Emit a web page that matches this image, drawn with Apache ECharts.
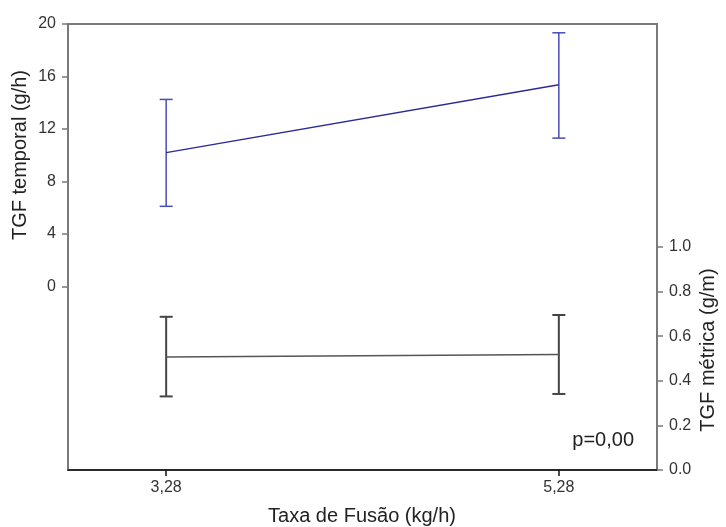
<!DOCTYPE html>
<html>
<head>
<meta charset="utf-8">
<script src="https://cdn.jsdelivr.net/npm/echarts@6/dist/echarts.min.js"></script>
<style>html,body{margin:0;padding:0;background:#fff;}#c{width:726px;height:527px;}</style>
</head>
<body>
<div id="c"></div>
<script>
const xCategories = [3.28, 5.28];
const temporalMean = [10.2, 15.37];
const temporalLow = [6.1, 11.3];
const temporalHigh = [14.25, 19.33];
const metricaMean = [0.507, 0.518];
const metricaLow = [0.33, 0.341];
const metricaHigh = [0.687, 0.695];
const leftTicks = [0, 4, 8, 12, 16, 20];
const rightTicks = [0, 0.2, 0.4, 0.6, 0.8, 1.0];
const pText = 'p=0,00';

const FONT = 'Liberation Sans, Arial, sans-serif';
const chart = echarts.init(document.getElementById('c'), null, {renderer: 'canvas'});

function errBar(color, width) {
  return function (params, api) {
    const x = api.value(0);
    const lo = api.coord([x, api.value(1)]);
    const hi = api.coord([x, api.value(2)]);
    const w = 6.5;
    const style = {stroke: color, lineWidth: width};
    return {
      type: 'group',
      children: [
        {type: 'line', shape: {x1: lo[0], y1: lo[1], x2: hi[0], y2: hi[1]}, style},
        {type: 'line', shape: {x1: hi[0] - w, y1: hi[1], x2: hi[0] + w, y2: hi[1]}, style},
        {type: 'line', shape: {x1: lo[0] - w, y1: lo[1], x2: lo[0] + w, y2: lo[1]}, style}
      ]
    };
  };
}

const option = {
  animation: false,
  grid: {left: 68, right: 69, top: 24, bottom: 57, show: true, borderColor: '#7a7a7a', borderWidth: 2},
  xAxis: {
    type: 'value', min: 2.78, max: 5.78,
    axisLine: {show: true, onZero: false, lineStyle: {color: '#111', width: 1.5}},
    axisTick: {show: true, customValues: xCategories, length: 6, lineStyle: {color: '#111', width: 1.5}},
    axisLabel: {customValues: xCategories, color: '#333', fontSize: 16, fontFamily: FONT, margin: 10,
      formatter: v => v.toFixed(2).replace('.', ',')},
    splitLine: {show: false}
  },
  yAxis: [
    {
      type: 'value', min: -14, max: 20, position: 'left',
      axisLine: {show: true, onZero: false, lineStyle: {color: '#7a7a7a', width: 2}},
      axisTick: {show: true, customValues: leftTicks, length: 6, lineStyle: {color: '#7a7a7a', width: 1.5}},
      axisLabel: {customValues: leftTicks, color: '#333', fontSize: 16, fontFamily: FONT, margin: 12},
      splitLine: {show: false}
    },
    {
      type: 'value', min: 0, max: 2, position: 'right',
      axisLine: {show: true, onZero: false, lineStyle: {color: '#7a7a7a', width: 2}},
      axisTick: {show: true, customValues: rightTicks, length: 6, lineStyle: {color: '#7a7a7a', width: 1.5}},
      axisLabel: {customValues: rightTicks, color: '#333', fontSize: 16, fontFamily: FONT, margin: 12,
        formatter: v => v.toFixed(1)},
      splitLine: {show: false}
    }
  ],
  series: [
    {
      type: 'line', yAxisIndex: 0, symbol: 'none',
      lineStyle: {color: '#2a2a96', width: 1.3},
      data: xCategories.map((x, i) => [x, temporalMean[i]])
    },
    {
      type: 'custom', yAxisIndex: 0, renderItem: errBar('#4a4ab8', 1.5),
      data: xCategories.map((x, i) => [x, temporalLow[i], temporalHigh[i]])
    },
    {
      type: 'line', yAxisIndex: 1, symbol: 'none',
      lineStyle: {color: '#555', width: 1.5},
      data: xCategories.map((x, i) => [x, metricaMean[i]])
    },
    {
      type: 'custom', yAxisIndex: 1, renderItem: errBar('#444', 2),
      data: xCategories.map((x, i) => [x, metricaLow[i], metricaHigh[i]])
    }
  ],
  graphic: [
    {type: 'text', x: 20, y: 155, rotation: Math.PI / 2,
      style: {text: 'TGF temporal (g/h)', fontSize: 20, fontFamily: FONT, fill: '#222', align: 'center', verticalAlign: 'middle'}},
    {type: 'text', x: 708, y: 350, rotation: Math.PI / 2,
      style: {text: 'TGF métrica (g/m)', fontSize: 20, fontFamily: FONT, fill: '#222', align: 'center', verticalAlign: 'middle'}},
    {type: 'text', x: 362, y: 516,
      style: {text: 'Taxa de Fusão (kg/h)', fontSize: 20, fontFamily: FONT, fill: '#222', align: 'center', verticalAlign: 'middle'}},
    {type: 'text', x: 634, y: 440,
      style: {text: pText, fontSize: 20, fontFamily: FONT, fill: '#222', align: 'right', verticalAlign: 'middle'}}
  ]
};
chart.setOption(option);
</script>
</body>
</html>
